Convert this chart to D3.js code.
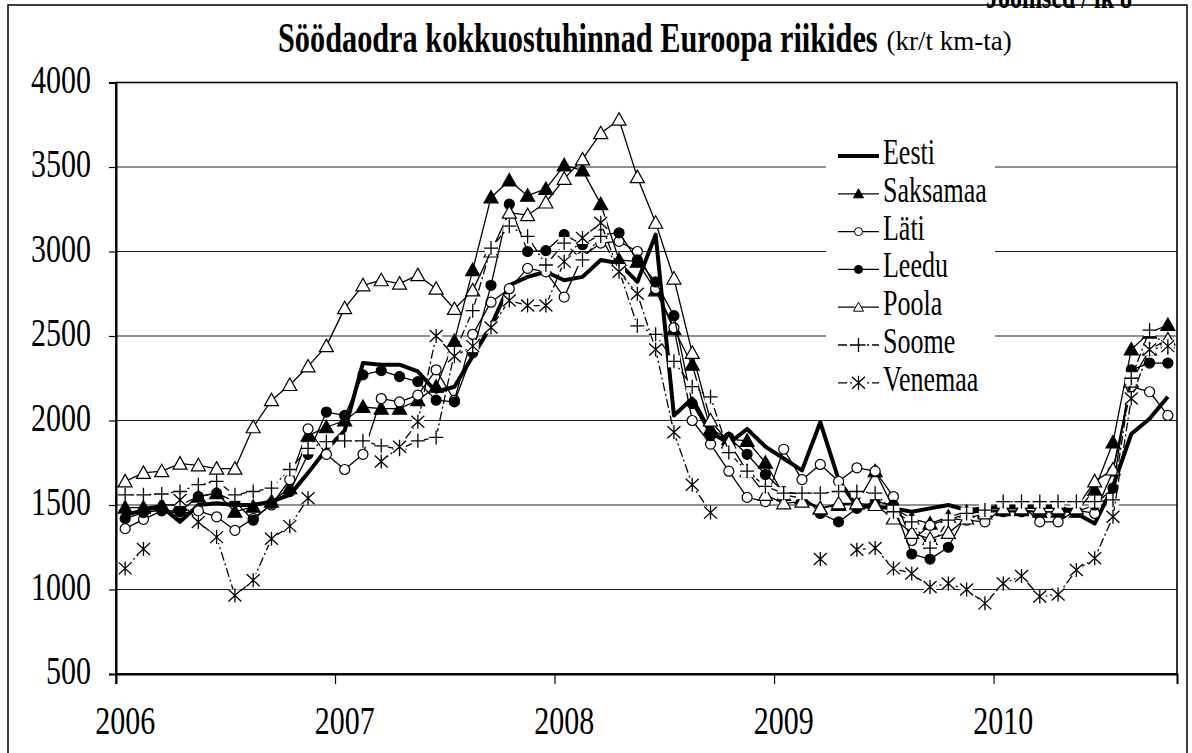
<!DOCTYPE html>
<html>
<head>
<meta charset="utf-8">
<script src="https://cdn.jsdelivr.net/npm/d3@7"></script>
<style>
body { margin: 0; background: #fff; }
text { font-family: "Liberation Serif", "Times New Roman", serif; fill: #000; }
</style>
</head>
<body>
<svg id="chart" width="1192" height="753"></svg>
<script>
// monthly categories Jan 2006 .. Oct 2010
var months = d3.timeMonth.range(new Date(2006, 0, 1), new Date(2010, 10, 1));
var yearLabels = ["2006", "2007", "2008", "2009", "2010"];
var yTicks = [500, 1000, 1500, 2000, 2500, 3000, 3500, 4000];

var eesti = [1440,1470,1490,1400,1500,1510,1500,1500,1520,1560,1690,1830,
    1940,2340,2330,2330,2290,2170,2200,2380,2560,2800,2850,2880,
    2830,2850,2950,2930,2820,3100,2030,2130,1930,1865,1950,1845,
    1775,1705,1990,1650,1490,1490,1480,1460,1480,1500,1470,1480,
    1490,1490,1490,1490,1450,1390,1610,1920,2010,2140];
var saksamaa = [1485,1485,1500,1500,1550,1570,1460,1490,1520,1600,1910,1960,
    2000,2080,2070,2070,2120,2200,2470,2890,3320,3420,3330,3370,
    3510,3480,3280,2950,2940,2770,2540,2330,1950,1890,1880,1750,
    1560,1540,1480,1500,1510,1700,1480,1420,1390,1430,1460,1460,
    1470,1470,1460,1460,1460,1590,1870,2420,2520,2565];
var lati = [1360,1415,1465,1450,1465,1430,1350,1420,1500,1650,1950,1800,
    1710,1800,2130,2110,2150,2300,2120,2510,2700,2780,2900,2880,
    2730,2970,3050,3060,3000,2780,2550,2000,1860,1700,1545,1520,
    1830,1650,1740,1640,1720,1700,1550,1290,1380,1420,1410,1400,
    1480,1500,1400,1400,1470,1450,1700,2200,2170,2030];
var leedu = [1420,1455,1470,1460,1550,1570,1520,1410,1510,1580,1800,2050,
    2030,2270,2295,2260,2230,2120,2110,2400,2800,3280,3000,3005,
    3100,3040,3100,3110,2950,2820,2620,2100,1910,1900,1800,1680,
    1580,1560,1450,1400,1480,1520,1500,1210,1180,1250,1450,1460,
    1460,1460,1460,1460,1460,1500,1600,2300,2340,2340];
var poola = [1640,1690,1700,1745,1735,1715,1715,1960,2120,2210,2320,2440,
    2665,2800,2830,2810,2860,2780,2660,2770,3000,3230,3215,3290,
    3430,3545,3700,3780,3440,3170,2840,2400,2000,1870,1700,1560,
    1510,1520,1480,1510,1510,1500,1420,1335,1300,1335,1420,1450,
    1480,1480,1480,1480,1480,1640,1710,2230,2420,2480];
var soome = [1560,1560,1565,1580,1620,1640,1560,1580,1600,1710,1835,1875,
    1880,1880,1850,1830,1880,1900,2400,2650,3020,3150,3090,2920,
    3050,2950,3090,2890,2560,2510,2350,2200,2140,1810,1700,1610,
    1570,1570,1570,1580,1580,1570,1460,1400,1245,1410,1450,1470,
    1520,1520,1520,1520,1520,1520,1530,2250,2535,2430];
var venemaa = [1125,1240,null,1530,1400,1310,965,1055,1300,1375,1540,null,
    null,null,1757,1845,1993,2500,2380,2440,2550,2710,2680,2680,
    2940,3080,3170,2880,2750,2420,1930,1620,1455,null,null,null,
    null,null,1180,null,1235,1245,1125,1095,1015,1035,1000,918,
    1035,1080,958,970,1115,1185,1430,2130,2420,2440];

var seriesNames = ["Eesti", "Saksamaa", "Läti", "Leedu", "Poola", "Soome", "Venemaa"];
var seriesValues = [eesti, saksamaa, lati, leedu, poola, soome, venemaa];
var seriesMarks = ["none", "triFill", "circOpen", "circFill", "triOpen", "plus", "star"];

var stretch = 1.36;   // text in the picture is drawn tall and narrow
var svg = d3.select("#chart");

var x = d3.scaleBand().domain(months).range([116, 1177]);
var y = d3.scaleLinear().domain([500, 4000]).range([674, 82.5]);
function cx(i) { return x(months[i]) + x.bandwidth() / 2; }

function label(parent, px, py, str, size, anchor, weight, sy) {
    return parent.append("text")
        .attr("transform", "translate(" + px + "," + py + ") scale(1," + (sy || stretch) + ")")
        .attr("text-anchor", anchor || "start")
        .style("font-size", size + "px")
        .style("font-weight", weight || "normal")
        .text(str);
}

// outer frame + cut-off page caption
svg.append("rect").attr("x", 8).attr("y", 5).attr("width", 1179).attr("height", 760)
    .attr("fill", "none").attr("stroke", "#000").attr("stroke-width", 1.5);
label(svg, 1132, 8, "Joonised / lk 8", 24, "end", "bold");

// title: bold part then the unit in a smaller, flatter face
var title = label(svg, 278, 52, "Söödaodra kokkuostuhinnad Euroopa riikides", 30.3, "start", "bold");
var tw = title.node().getComputedTextLength();
label(svg, 278 + tw + 9, 50, "(kr/t km-ta)", 27, "start", "normal", 1.0);

// grid
svg.append("g").selectAll("line").data(yTicks).enter().append("line")
    .attr("x1", 116).attr("x2", 1177)
    .attr("y1", function(d) { return y(d); }).attr("y2", function(d) { return y(d); })
    .attr("stroke", "#222").attr("stroke-width", 1.1);

// axes
var yAxis = svg.append("g").attr("transform", "translate(116,0)")
    .call(d3.axisLeft(y).tickValues(yTicks).tickSize(7).tickFormat(""));
var xAxis = svg.append("g").attr("transform", "translate(0,674)")
    .call(d3.axisBottom(x).tickValues(months.filter(function(d, i) { return i % 12 == 0; }))
        .tickSize(10).tickFormat(""));
xAxis.selectAll(".tick").attr("transform", function(d) { return "translate(" + x(d) + ",0)"; });
[yAxis, xAxis].forEach(function(a) {
    a.select(".domain").attr("stroke", "#000").attr("stroke-width", 2);
    a.selectAll(".tick line").attr("stroke", "#000").attr("stroke-width", 1.2);
});
svg.append("rect").attr("x", 116).attr("y", 82.5).attr("width", 1061).attr("height", 591.5)
    .attr("fill", "none").attr("stroke", "#000").attr("stroke-width", 1.6);

yTicks.forEach(function(t) { label(svg, 91, y(t) + 10, String(t), 30, "end"); });
yearLabels.forEach(function(t, k) { label(svg, cx(k * 12), 734, t, 30, "middle"); });

// markers
function marker(g, kind, px, py) {
    if (kind == "triFill" || kind == "triOpen") {
        g.append("path").attr("d", "M" + px + "," + (py - 7) + "L" + (px + 7) + "," + (py + 5.5) + "L" + (px - 7) + "," + (py + 5.5) + "Z")
            .attr("fill", kind == "triFill" ? "#000" : "#fff").attr("stroke", "#000").attr("stroke-width", 1.2);
    } else if (kind == "circFill" || kind == "circOpen") {
        g.append("circle").attr("cx", px).attr("cy", py).attr("r", 5)
            .attr("fill", kind == "circFill" ? "#000" : "#fff").attr("stroke", "#000").attr("stroke-width", 1.2);
    } else if (kind == "plus") {
        g.append("rect").attr("x", px - 6).attr("y", py - 6).attr("width", 12).attr("height", 12).attr("fill", "#fff");
        g.append("path").attr("d", "M" + (px - 7) + "," + py + "H" + (px + 7) + "M" + px + "," + (py - 7) + "V" + (py + 7))
            .attr("stroke", "#000").attr("stroke-width", 1.3);
    } else if (kind == "star") {
        g.append("rect").attr("x", px - 6).attr("y", py - 6).attr("width", 12).attr("height", 12).attr("fill", "#fff");
        g.append("path").attr("d", "M" + px + "," + (py - 7) + "V" + (py + 7) +
                "M" + (px - 6.5) + "," + (py - 6) + "L" + (px + 6.5) + "," + (py + 6) +
                "M" + (px + 6.5) + "," + (py - 6) + "L" + (px - 6.5) + "," + (py + 6))
            .attr("stroke", "#000").attr("stroke-width", 1.3);
    }
}

var line = d3.line()
    .defined(function(d) { return d != null; })
    .x(function(d, i) { return cx(i); })
    .y(function(d) { return y(d); });

seriesValues.forEach(function(vals, s) {
    var g = svg.append("g").attr("class", "series");
    var dashed = seriesMarks[s] == "plus" || seriesMarks[s] == "star";
    g.append("path").datum(vals).attr("d", line)
        .attr("fill", "none").attr("stroke", "#000")
        .attr("stroke-width", s == 0 ? 4 : 1.3)
        .attr("stroke-linejoin", "round")
        .attr("stroke-dasharray", dashed ? "9,3,2,3" : null);
    vals.forEach(function(v, i) { if (v != null) marker(g, seriesMarks[s], cx(i), y(v)); });
});

// legend
var leg = svg.append("g");
leg.append("rect").attr("x", 826).attr("y", 132).attr("width", 169).attr("height", 276).attr("fill", "#fff");
seriesNames.forEach(function(n, s) {
    var ly = 156 + s * 37.8;
    var dashed = seriesMarks[s] == "plus" || seriesMarks[s] == "star";
    leg.append("line").attr("x1", 838).attr("x2", 879).attr("y1", ly).attr("y2", ly)
        .attr("stroke", "#000").attr("stroke-width", s == 0 ? 4 : 1.3)
        .attr("stroke-dasharray", dashed ? "9,3,2,3" : null);
    if (s == 1 || s == 4) {
        leg.append("path").attr("d", "M858.5," + (ly - 5) + "L863.5," + (ly + 4) + "L853.5," + (ly + 4) + "Z")
            .attr("fill", s == 1 ? "#000" : "#fff").attr("stroke", "#000");
    } else if (s == 2 || s == 3) {
        leg.append("circle").attr("cx", 858.5).attr("cy", ly).attr("r", 4)
            .attr("fill", s == 3 ? "#000" : "#fff").attr("stroke", "#000");
    } else if (s > 4) {
        marker(leg, seriesMarks[s], 858.5, ly);
    }
    label(leg, 883, ly + 8, n, 26, "start");
});
</script>
</body>
</html>
